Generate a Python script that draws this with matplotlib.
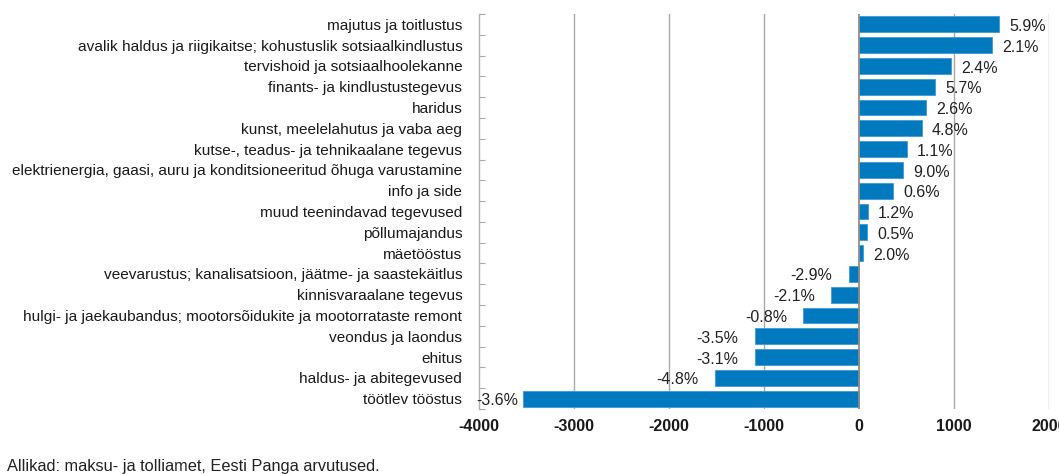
import matplotlib
matplotlib.use("Agg")
import matplotlib.pyplot as plt
import numpy as np

categories = [
    "majutus ja toitlustus",
    "avalik haldus ja riigikaitse; kohustuslik sotsiaalkindlustus",
    "tervishoid ja sotsiaalhoolekanne",
    "finants- ja kindlustustegevus",
    "haridus",
    "kunst, meelelahutus ja vaba aeg",
    "kutse-, teadus- ja tehnikaalane tegevus",
    "elektrienergia, gaasi, auru ja konditsioneeritud õhuga varustamine",
    "info ja side",
    "muud teenindavad tegevused",
    "põllumajandus",
    "mäetööstus",
    "veevarustus; kanalisatsioon, jäätme- ja saastekäitlus",
    "kinnisvaraalane tegevus",
    "hulgi- ja jaekaubandus; mootorsõidukite ja mootorrataste remont",
    "veondus ja laondus",
    "ehitus",
    "haldus- ja abitegevused",
    "töötlev tööstus",
]
values = [1470, 1400, 970, 800, 700, 660, 500, 465, 360, 90, 85, 40,
          -110, -290, -590, -1100, -1100, -1520, -3540]
pct_labels = ["5.9%", "2.1%", "2.4%", "5.7%", "2.6%", "4.8%", "1.1%", "9.0%",
              "0.6%", "1.2%", "0.5%", "2.0%", "-2.9%", "-2.1%", "-0.8%",
              "-3.5%", "-3.1%", "-4.8%", "-3.6%"]
xticks = [-4000, -3000, -2000, -1000, 0, 1000, 2000]
source = "Allikad: maksu- ja tolliamet, Eesti Panga arvutused."

plt.rcParams['font.family'] = ['Liberation Sans', 'DejaVu Sans']

fig = plt.figure(figsize=(10.59, 4.74), dpi=100)
ax = fig.add_axes([479/1059, 1 - 409/474, (1049 - 479)/1059, (409 - 14)/474])

y = np.arange(len(categories))
ax.barh(y, values, height=0.76, color='#0079BF', edgecolor='#3d9ad6',
        linewidth=0.6, zorder=3)

ax.set_xlim(-4000, 2000)
ax.set_ylim(len(categories) - 0.5, -0.5)
ax.set_xticks(xticks)
ax.set_xticklabels([str(t) for t in xticks], fontweight='bold', fontsize=11.5,
                   color='#1a1a1a')
ax.tick_params(axis='x', length=0, pad=7)

ax.set_yticks(y)
ax.set_yticklabels(categories, fontsize=11.1, color='#1a1a1a')
ax.tick_params(axis='y', which='major', length=0, pad=12)
ax.set_yticks(np.arange(len(categories) + 1) - 0.5, minor=True)
ax.tick_params(axis='y', which='minor', direction='in', length=4.5,
               color='#aaaaaa', width=0.8)

for s in ['top', 'right', 'bottom']:
    ax.spines[s].set_visible(False)
ax.spines['left'].set_color('#b0b0b0')
ax.spines['left'].set_linewidth(1.0)

for t in xticks[1:]:
    ax.axvline(t, color='#8c8c8c' if t == 0 else '#a8a8a8',
               linewidth=1.3 if t == 0 else 1.0, zorder=2 if t != 0 else 4)

for yi, v, lab in zip(y, values, pct_labels):
    if v >= 0:
        ax.annotate(lab, (v, yi), xytext=(7.5, -1.5), textcoords='offset points',
                    ha='left', va='center', fontsize=11.5, color='#222222',
                    zorder=5)
    else:
        off = -11.5 if v > -3000 else -3.5
        ax.annotate(lab, (v, yi), xytext=(off, -1.5), textcoords='offset points',
                    ha='right', va='center', fontsize=11.5, color='#222222',
                    zorder=5)

fig.text(7/1059, 1 - 467/474, source, fontsize=11.8, color='#222222',
         ha='left', va='center')

fig.savefig("out.png", dpi=100)
